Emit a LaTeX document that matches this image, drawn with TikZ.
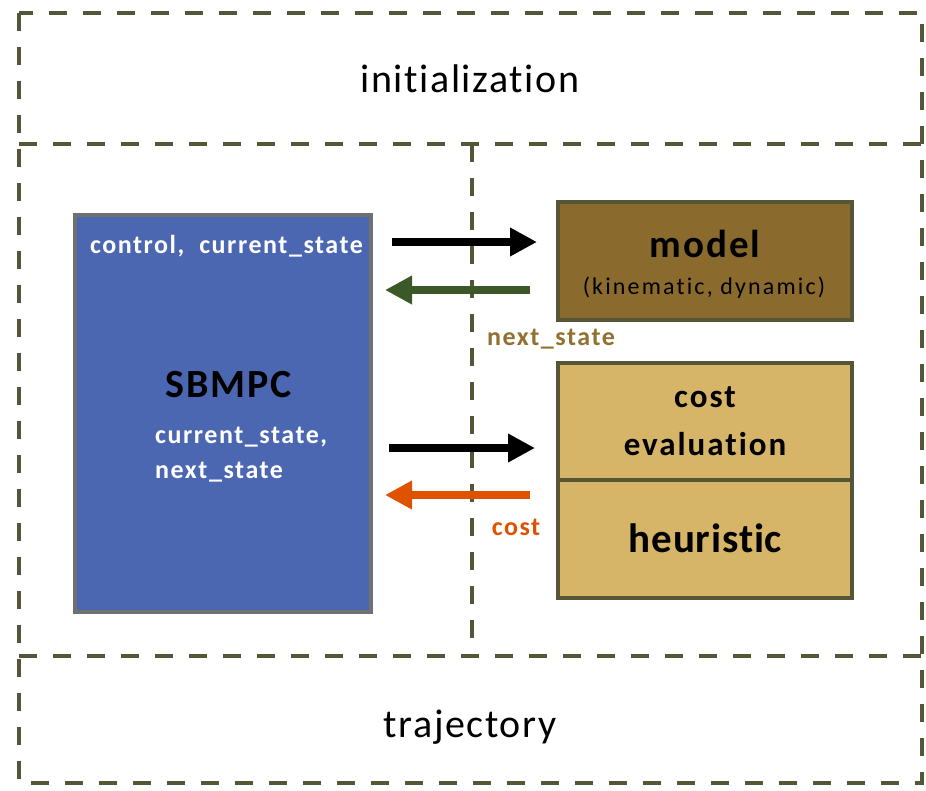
\documentclass[tikz,border=0pt]{standalone}
\usepackage{fontspec}
\setmainfont{Carlito}[Ligatures=NoCommon]
\usetikzlibrary{arrows.meta}
\definecolor{frameol}{RGB}{85,85,56}
\definecolor{sbblue}{RGB}{75,103,177}
\definecolor{sbgray}{RGB}{112,112,112}
\definecolor{modelbr}{RGB}{139,106,45}
\definecolor{costtan}{RGB}{214,180,104}
\definecolor{arrgreen}{RGB}{58,88,40}
\definecolor{arrorange}{RGB}{222,82,0}
\definecolor{nslabel}{RGB}{145,112,48}
\newcommand\fsz[2]{\fontsize{#1}{#1}\selectfont\addfontfeatures{LetterSpace=#2}}
\tikzset{
  frameline/.style={draw=frameol, line width=4pt, dash pattern=on 18pt off 16pt},
  boxline/.style={draw=frameol, line width=4pt},
  bigarrow/.style={line width=8pt, -{Triangle[length=27pt,width=27pt]}},
  txt/.style={anchor=base, inner sep=0pt},
  whitelbl/.style={txt, text=white, font=\bfseries\fsz{26}{6}},
}
\begin{document}
\begin{tikzpicture}[x=1pt,y=-1pt]
\useasboundingbox (0,0) rectangle (926,790);
% frames
\draw[frameline] (19,13) rectangle (922,783);
\draw[frameline] (19,144) -- (922,144);
\draw[frameline] (19,656) -- (922,656);
\draw[frameline] (472,144) -- (472,656);
\node[txt, font=\fsz{40}{4}] (init) at (470,92) {initialization};
\node[txt, font=\fsz{40}{4}] (traj) at (470,737) {trajectory};
% SBMPC box
\filldraw[fill=sbblue, draw=sbgray, line width=4pt] (75,215) rectangle (371,612);
\node[txt, font=\bfseries\fsz{40}{5}] (sbt) at (228.5,397) {SBMPC};
\node[whitelbl] (cl) at (226.5,253) {control,\ \ current\_state};
\node[whitelbl, anchor=base west] (cs1) at (155,443) {current\_state,};
\node[whitelbl, anchor=base west] (cs2) at (155,478) {next\_state};
% model box
\filldraw[boxline, fill=modelbr] (558,202) rectangle (852,320);
\node[txt, font=\bfseries\fsz{39}{5}] (mt) at (705,257) {model};
\node[txt, font=\fsz{24}{9}] (ms) at (704,294) {(kinematic, dynamic)};
% cost box
\filldraw[boxline, fill=costtan] (558,363) rectangle (852,598);
\draw[boxline] (558,480) -- (852,480);
\node[txt, font=\bfseries\fsz{33}{6}] (ce1) at (705,407) {cost};
\node[txt, font=\bfseries\fsz{33}{6}] (ce2) at (705,455) {evaluation};
\node[txt, font=\bfseries\fsz{41}{2}] (he) at (705.5,552) {heuristic};
% arrows
\coordinate (a1s) at (392,242); \coordinate (a1e) at (537,242);
\coordinate (a2s) at (530,290); \coordinate (a2e) at (385,290);
\coordinate (a3s) at (389,448); \coordinate (a3e) at (535,448);
\coordinate (a4s) at (530,495); \coordinate (a4e) at (385,495);
\draw[bigarrow, black] (a1s) -- (a1e);
\draw[bigarrow, arrgreen] (a2s) -- (a2e);
\draw[bigarrow, black] (a3s) -- (a3e);
\draw[bigarrow, arrorange] (a4s) -- (a4e);
\node[txt, text=nslabel, font=\bfseries\fsz{26}{6}] (nsl) at (551,345) {next\_state};
\node[txt, text=arrorange, font=\bfseries\fsz{26}{6}] (csl) at (516,535) {cost};
\end{tikzpicture}
\end{document}
